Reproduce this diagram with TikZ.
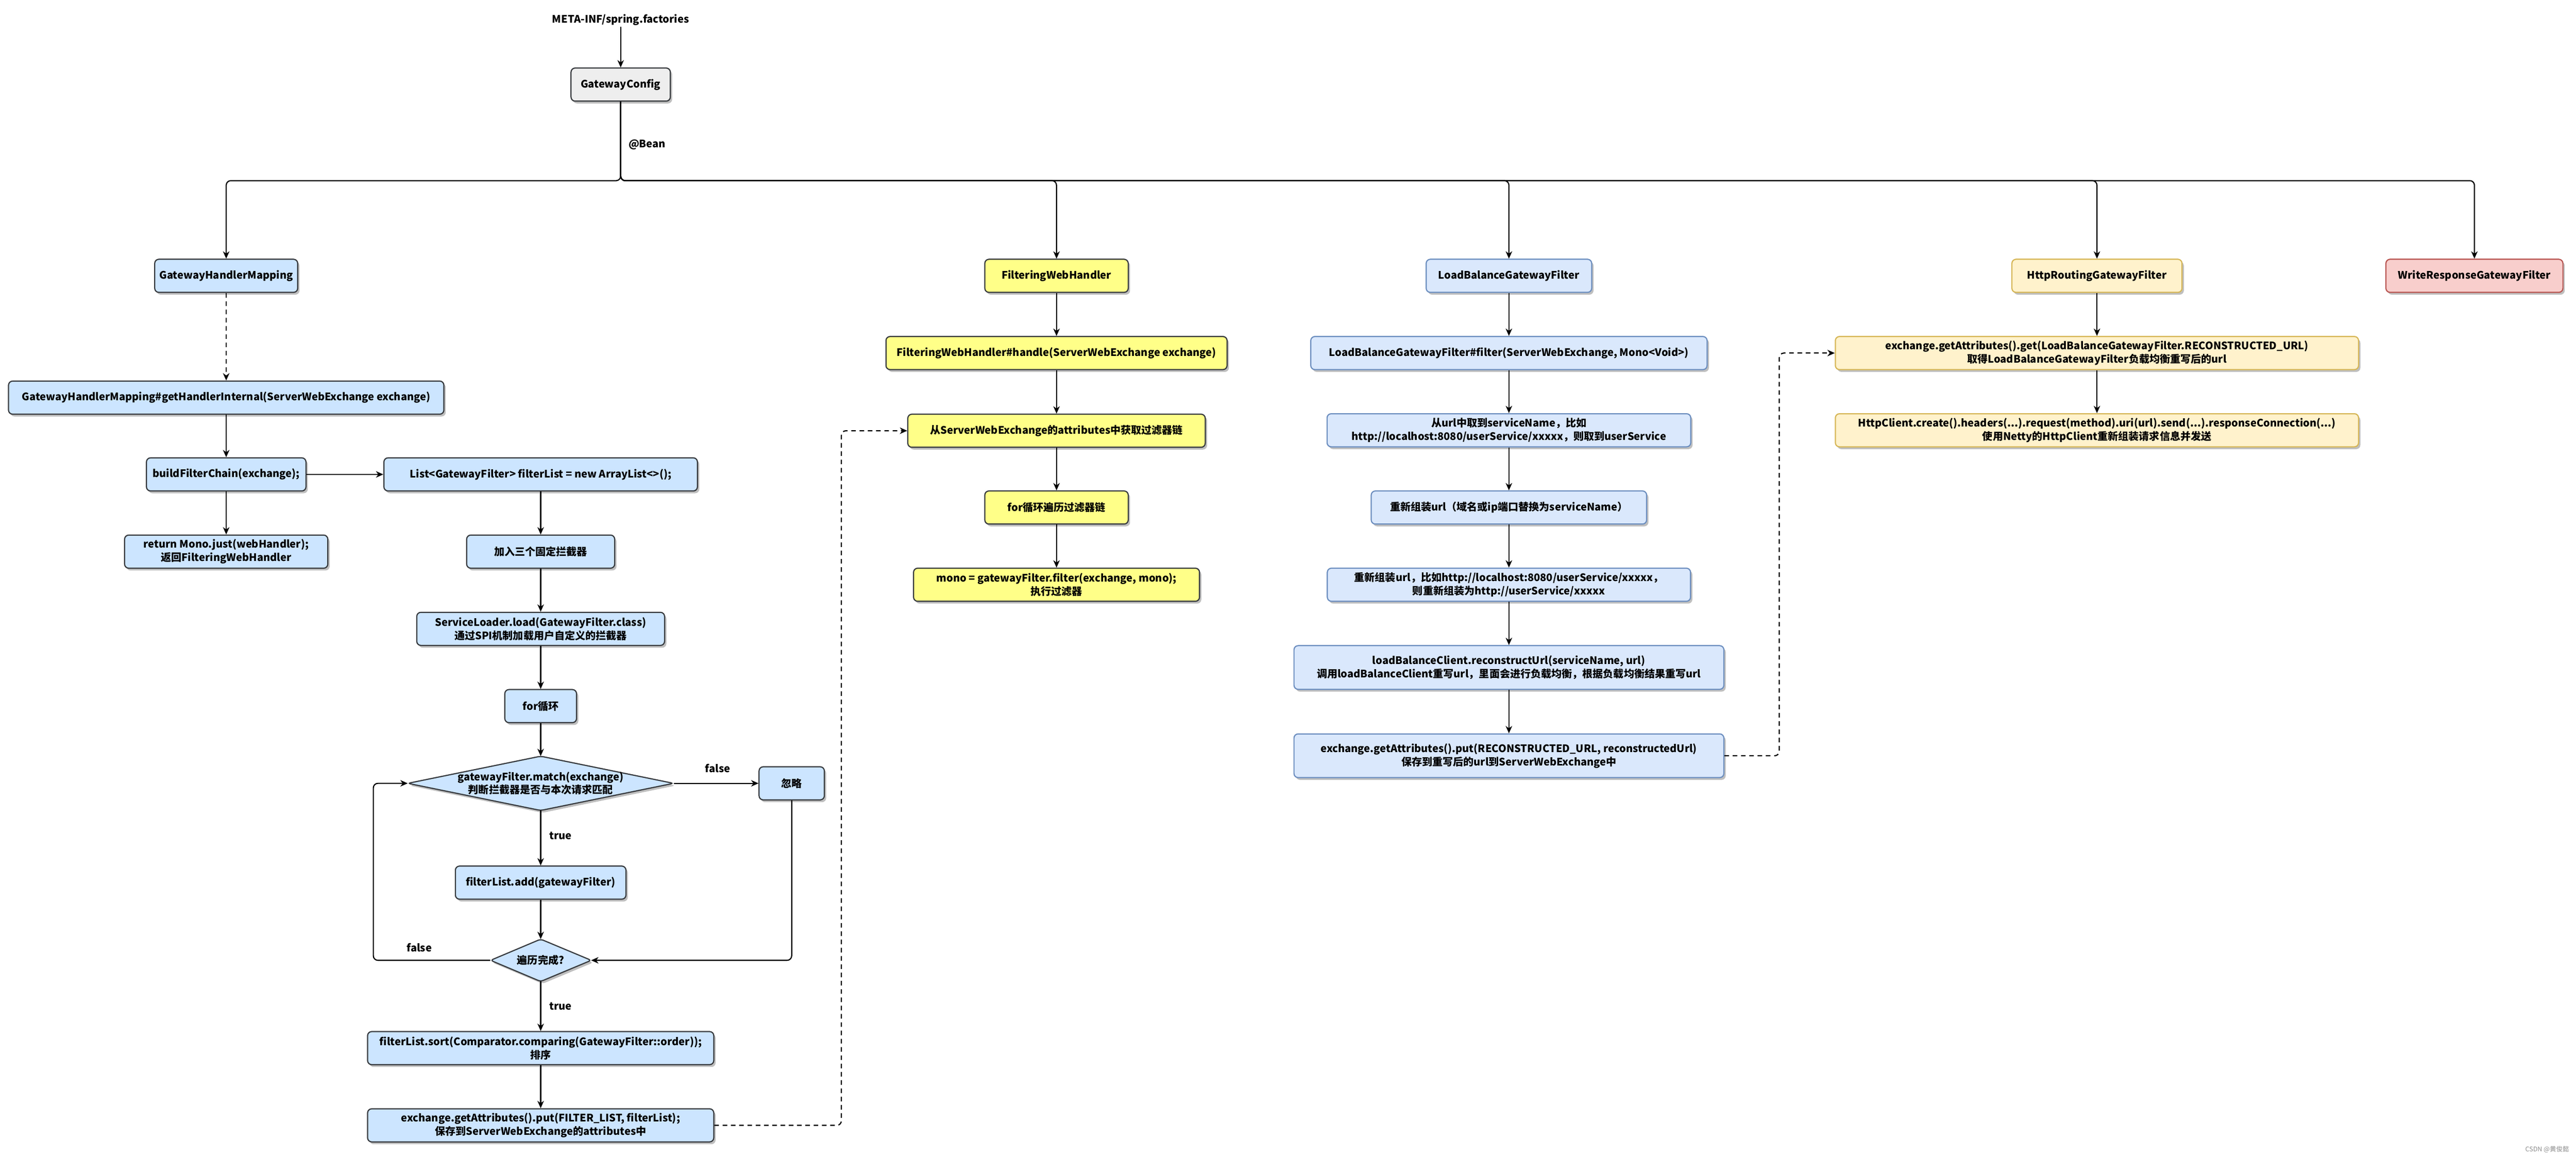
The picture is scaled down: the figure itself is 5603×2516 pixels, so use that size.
\documentclass[tikz,border=0pt]{standalone}
\usepackage{fontspec}
\setmainfont{Noto Sans CJK SC}
\usetikzlibrary{shadows,arrows.meta}
\definecolor{dk}{HTML}{36393D}
\definecolor{bluef}{HTML}{CCE5FF}
\definecolor{yelf}{HTML}{FFFF88}
\definecolor{lbfill}{HTML}{DAE8FC}
\definecolor{lbstroke}{HTML}{6C8EBF}
\definecolor{hrfill}{HTML}{FFF2CC}
\definecolor{hrstroke}{HTML}{D6B656}
\definecolor{wrfill}{HTML}{F8CECC}
\definecolor{wrstroke}{HTML}{B85450}
\definecolor{gcfill}{HTML}{EEEEEE}
\begin{document}
\begin{tikzpicture}[x=1pt,y=-1pt,
  txt/.style={font=\fontsize{22.5}{29}\selectfont\bfseries, align=center, text=black},
  shd/.style={drop shadow={shadow xshift=4pt, shadow yshift=-5pt, opacity=0.25, fill=black}},
  base/.style={txt, draw=dk, line width=2.5pt, rounded corners=9pt, inner sep=0pt, shd},
  sz/.style 2 args={minimum width=#1pt, minimum height=#2pt},
  gbox/.style={base, fill=gcfill},
  bbox/.style={base, fill=bluef},
  ybox/.style={base, fill=yelf},
  lbox/.style={base, fill=lbfill, draw=lbstroke},
  hbox/.style={base, fill=hrfill, draw=hrstroke},
  rbox/.style={base, fill=wrfill, draw=wrstroke},
  dshape/.style={draw=dk, fill=bluef, line width=2.5pt, rounded corners=6pt, shd},
  arr/.style={draw=black, line width=2.5pt, -{Stealth[length=16pt,width=14pt,inset=5pt]}, rounded corners=10pt},
  darr/.style={arr, dash pattern=on 10pt off 8pt},
  lbl/.style={txt, inner sep=0pt},
]
\fill[white] (0,0) rectangle (5603,2516);
\useasboundingbox (0,0) rectangle (5603,2516);

% top
\node[txt] (meta) at (1350,43) {META-INF/spring.factories};
\node[gbox, sz={216}{72}] (gc) at (1350,184) {GatewayConfig};
\coordinate (bus) at (1350,393);
\node[lbl, anchor=west] (bean) at (1367,315) {@Bean};

% left column
\node[bbox, sz={311}{72}] (ghm) at (492,600) {GatewayHandlerMapping};
\node[bbox, sz={947}{72}] (ghi) at (492,865) {GatewayHandlerMapping\#getHandlerInternal(ServerWebExchange exchange)};
\node[bbox, sz={347}{72}] (bfc) at (492,1032) {buildFilterChain(exchange);};
\node[bbox, sz={442}{72}] (ret) at (492,1200) {return Mono.just(webHandler);\\返回FilteringWebHandler};
\node[bbox, sz={682}{72}] (lst) at (1176,1032) {List<GatewayFilter> filterList = new ArrayList<>();};
\node[bbox, sz={322}{72}] (add3) at (1176,1200) {加入三个固定拦截器};
\node[bbox, sz={539}{72}] (sl) at (1176,1368) {ServiceLoader.load(GatewayFilter.class)\\通过SPI机制加载用户自定义的拦截器};
\node[bbox, sz={156}{72}] (forl) at (1176,1536) {for循环};
\path[dshape] (1176,1645) -- (1465,1704) -- (1176,1763) -- (887,1704) -- cycle;
\node[lbl, sz={578}{118}] (d1) at (1176,1704) {gatewayFilter.match(exchange)\\判断拦截器是否与本次请求匹配};
\node[bbox, sz={142}{72}] (ign) at (1722,1704) {忽略};
\node[bbox, sz={371}{72}] (fadd) at (1176,1920) {filterList.add(gatewayFilter)};
\path[dshape] (1176,2043) -- (1286,2089) -- (1176,2135) -- (1067,2089) -- cycle;
\node[lbl, sz={219}{92}] (d2) at (1176,2089) {遍历完成?};
\node[bbox, sz={753}{72}] (sort) at (1176,2280) {filterList.sort(Comparator.comparing(GatewayFilter::order));\\排序};
\node[bbox, sz={753}{72}] (put) at (1176,2448) {exchange.getAttributes().put(FILTER\_LIST, filterList);\\保存到ServerWebExchange的attributes中};
\coordinate (lp) at (812,2089);
\coordinate (dj1) at (1830,2448);
\node[lbl] (f1) at (1561,1671) {false};
\node[lbl] (t1) at (1219,1818) {true};
\node[lbl] (f2) at (912,2061) {false};
\node[lbl] (t2) at (1219,2189) {true};

% middle column
\node[ybox, sz={312}{72}] (fwh) at (2298,600) {FilteringWebHandler};
\node[ybox, sz={742}{72}] (fwhd) at (2298,768) {FilteringWebHandler\#handle(ServerWebExchange exchange)};
\node[ybox, sz={647}{72}] (fwg) at (2298,937) {从ServerWebExchange的attributes中获取过滤器链};
\node[ybox, sz={312}{72}] (fwf) at (2298,1104) {for循环遍历过滤器链};
\node[ybox, sz={622}{72}] (fwm) at (2298,1272) {mono = gatewayFilter.filter(exchange, mono);\\执行过滤器};

% load balance column
\node[lbox, sz={360}{72}] (lb) at (3282,600) {LoadBalanceGatewayFilter};
\node[lbox, sz={862}{72}] (lb1) at (3282,768) {LoadBalanceGatewayFilter\#filter(ServerWebExchange, Mono<Void>)};
\node[lbox, sz={791}{72}] (lb2) at (3282,936) {从url中取到serviceName，比如\\http://localhost:8080/userService/xxxxx，则取到userService};
\node[lbox, sz={599}{72}] (lb3) at (3282,1104) {重新组装url（域名或ip端口替换为serviceName）};
\node[lbox, sz={790}{72}] (lb4) at (3282,1272) {重新组装url，比如http://localhost:8080/userService/xxxxx，\\则重新组装为http://userService/xxxxx};
\node[lbox, sz={935}{95}] (lb5) at (3282,1452) {loadBalanceClient.reconstructUrl(serviceName, url)\\调用loadBalanceClient重写url，里面会进行负载均衡，根据负载均衡结果重写url};
\node[lbox, sz={935}{95}] (lb6) at (3282,1644) {exchange.getAttributes().put(RECONSTRUCTED\_URL, reconstructedUrl)\\保存到重写后的url到ServerWebExchange中};
\coordinate (dj2) at (3870,1644);

% http routing column
\node[hbox, sz={370}{72}] (hr) at (4561,600) {HttpRoutingGatewayFilter};
\node[hbox, sz={1138}{72}] (hg) at (4561,768) {exchange.getAttributes().get(LoadBalanceGatewayFilter.RECONSTRUCTED\_URL)\\取得LoadBalanceGatewayFilter负载均衡重写后的url};
\node[hbox, sz={1138}{72}] (hc) at (4561,936) {HttpClient.create().headers(...).request(method).uri(url).send(...).responseConnection(...)\\使用Netty的HttpClient重新组装请求信息并发送};
\node[rbox, sz={385}{72}] (wr) at (5382,600) {WriteResponseGatewayFilter};

\node[font=\fontsize{14}{16}\selectfont, text=black!45, anchor=east, inner sep=0pt] (wm) at (5588,2500) {CSDN @黄俊懿};

% connectors
\draw[arr] (meta) -- (gc);
\foreach \t in {ghm,fwh,lb,hr,wr} {\draw[arr] (gc.south) -- (bus) -| (\t.north);}
\draw[darr] (ghm) -- (ghi);
\draw[arr] (ghi) -- (bfc);
\draw[arr] (bfc) -- (ret);
\draw[arr] (bfc) -- (lst);
\draw[arr] (lst) -- (add3);
\draw[arr] (add3) -- (sl);
\draw[arr] (sl) -- (forl);
\draw[arr] (forl) -- (d1);
\draw[arr] (d1) -- (ign);
\draw[arr] (d1) -- (fadd);
\draw[arr] (fadd) -- (d2);
\draw[arr] (ign) |- (d2);
\draw[arr] (d2) -- (lp) |- (d1);
\draw[arr] (d2) -- (sort);
\draw[arr] (sort) -- (put);
\draw[darr] (put) -- (dj1) |- (fwg);
\draw[arr] (fwh) -- (fwhd);
\draw[arr] (fwhd) -- (fwg);
\draw[arr] (fwg) -- (fwf);
\draw[arr] (fwf) -- (fwm);
\draw[arr] (lb) -- (lb1);
\draw[arr] (lb1) -- (lb2);
\draw[arr] (lb2) -- (lb3);
\draw[arr] (lb3) -- (lb4);
\draw[arr] (lb4) -- (lb5);
\draw[arr] (lb5) -- (lb6);
\draw[darr] (lb6) -- (dj2) |- (hg);
\draw[arr] (hr) -- (hg);
\draw[arr] (hg) -- (hc);
\end{tikzpicture}
\end{document}
